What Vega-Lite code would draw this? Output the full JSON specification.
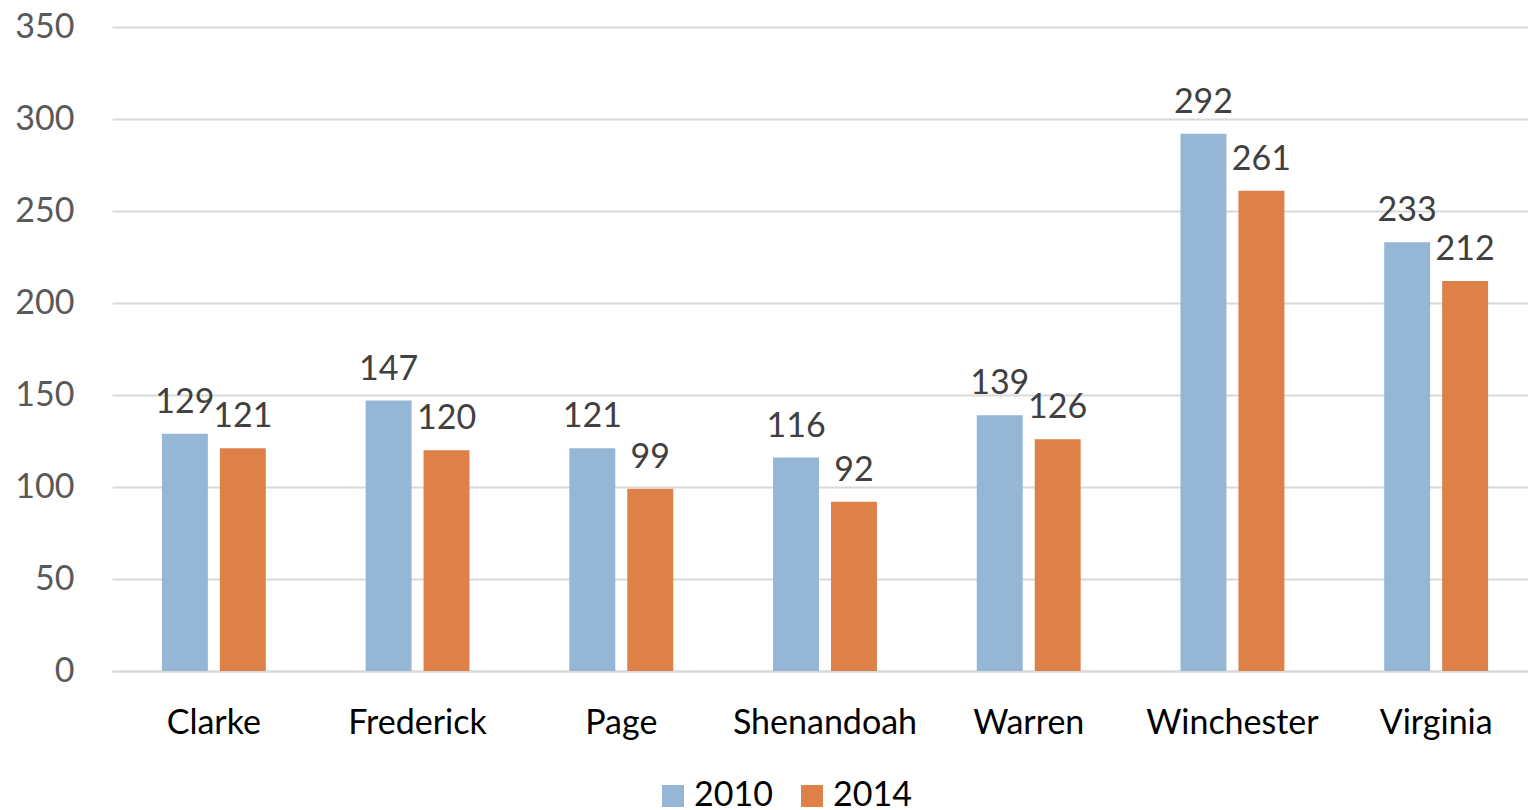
{
  "$schema": "https://vega.github.io/schema/vega-lite/v6.json",
  "width": 1426,
  "height": 644,
  "autosize": {"type": "none"},
  "padding": {"left": 112, "top": 27, "right": 0, "bottom": 139},
  "background": "white",
  "config": {
    "font": "Lato",
    "view": {"stroke": null}
  },
  "data": {
    "values": [
      {"county": "Clarke", "year": "2010", "value": 129},
      {"county": "Clarke", "year": "2014", "value": 121},
      {"county": "Frederick", "year": "2010", "value": 147},
      {"county": "Frederick", "year": "2014", "value": 120},
      {"county": "Page", "year": "2010", "value": 121},
      {"county": "Page", "year": "2014", "value": 99},
      {"county": "Shenandoah", "year": "2010", "value": 116},
      {"county": "Shenandoah", "year": "2014", "value": 92},
      {"county": "Warren", "year": "2010", "value": 139},
      {"county": "Warren", "year": "2014", "value": 126},
      {"county": "Winchester", "year": "2010", "value": 292},
      {"county": "Winchester", "year": "2014", "value": 261},
      {"county": "Virginia", "year": "2010", "value": 233},
      {"county": "Virginia", "year": "2014", "value": 212}
    ]
  },
  "encoding": {
    "x": {
      "field": "county",
      "type": "nominal",
      "sort": null,
      "scale": {"paddingInner": 0.49, "paddingOuter": 0.245},
      "axis": {
        "title": null,
        "labelAngle": 0,
        "labelFontSize": 34,
        "labelColor": "#000000",
        "labelPadding": 35,
        "labelLimit": 0,
        "ticks": false,
        "domainColor": "#d9d9d9",
        "domainWidth": 2,
        "grid": false
      }
    },
    "xOffset": {
      "field": "year",
      "type": "nominal",
      "scale": {"paddingInner": 0.207, "paddingOuter": 0}
    },
    "y": {
      "field": "value",
      "type": "quantitative",
      "scale": {"domain": [0, 350]},
      "axis": {
        "title": null,
        "values": [0, 50, 100, 150, 200, 250, 300, 350],
        "labelFontSize": 34,
        "labelColor": "#595959",
        "labelPadding": 38,
        "ticks": false,
        "domain": false,
        "gridColor": "#d9d9d9",
        "gridWidth": 2
      }
    }
  },
  "layer": [
    {
      "mark": {"type": "bar"},
      "encoding": {
        "color": {
          "field": "year",
          "type": "nominal",
          "scale": {"domain": ["2010", "2014"], "range": ["#95b6d4", "#de8149"]},
          "legend": {
            "title": null,
            "orient": "none",
            "direction": "horizontal",
            "legendX": 544,
            "legendY": 752,
            "symbolType": "square",
            "symbolSize": 484,
            "symbolStrokeWidth": 0,
            "labelFontSize": 34,
            "labelColor": "#000000",
            "labelOffset": 4,
            "columnPadding": 22
          }
        }
      }
    },
    {
      "mark": {"type": "text", "baseline": "alphabetic", "dy": -21, "fontSize": 34, "color": "#404040"},
      "encoding": {
        "text": {"field": "value", "type": "quantitative"}
      }
    }
  ]
}
